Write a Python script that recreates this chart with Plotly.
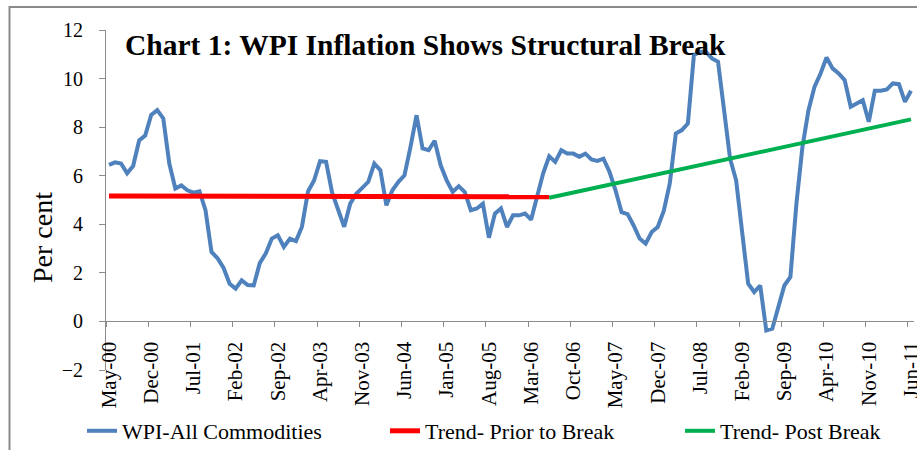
import pandas as pd
import plotly.graph_objects as go

# Monthly categories May-00 .. Jun-11
months = list(pd.date_range("2000-05-01", periods=134, freq="MS").strftime("%b-%y"))

wpi = [6.45, 6.55, 6.5, 6.1, 6.4, 7.45, 7.65, 8.5, 8.7, 8.36,
       6.5, 5.47, 5.6, 5.4, 5.3, 5.36, 4.58, 2.86, 2.6, 2.2,
       1.55, 1.35, 1.69, 1.5, 1.48, 2.4, 2.8, 3.41, 3.55, 3.07,
       3.41, 3.31, 3.9, 5.35, 5.8, 6.6, 6.57, 5.3, 4.6, 3.9,
       4.85, 5.26, 5.5, 5.75, 6.5, 6.23, 4.78, 5.4, 5.75, 6.02,
       7.19, 8.49, 7.12, 7.05, 7.44, 6.43, 5.81, 5.33, 5.57, 5.33,
       4.58, 4.65, 4.85, 3.45, 4.44, 4.65, 3.89, 4.37, 4.37, 4.44,
       4.19, 5.1, 6.1, 6.8, 6.57, 7.05, 6.91, 6.91, 6.78, 6.91,
       6.67, 6.61, 6.7, 6.16, 5.4, 4.5, 4.42, 3.95, 3.41, 3.2,
       3.68, 3.89, 4.55, 5.68, 7.74, 7.88, 8.15, 10.97, 11.1, 11.1,
       10.83, 10.69, 8.7, 6.7, 5.81, 3.75, 1.55, 1.21, 1.48, -0.37,
       -0.3, 0.59, 1.48, 1.83, 4.85, 7.19, 8.7, 9.66, 10.21, 10.87,
       10.42, 10.21, 9.94, 8.84, 8.98, 9.11, 8.22, 9.5, 9.5, 9.55,
       9.8, 9.77, 9.04, 9.5]

# Trend lines (end points)
trend_prior_x = [0, 73]
trend_prior_y = [5.16, 5.13]
trend_post_x = [73, 133]
trend_post_y = [5.09, 8.32]

tick_idx = list(range(0, 134, 7))
tick_labels = [months[i] for i in tick_idx]

FONT = "Liberation Serif, Times New Roman, serif"
AXIS_GRAY = "#8c8c8c"

x_idx = list(range(len(months)))

fig = go.Figure()
fig.add_trace(go.Scatter(x=x_idx, y=wpi, mode="lines", name="WPI-All Commodities",
                         line=dict(color="#4F81BD", width=4), legend="legend",
                         showlegend=True))
fig.add_trace(go.Scatter(x=trend_prior_x, y=trend_prior_y, mode="lines",
                         name="Trend- Prior to Break",
                         line=dict(color="#FF0000", width=5), legend="legend2",
                         showlegend=True))
fig.add_trace(go.Scatter(x=trend_post_x, y=trend_post_y, mode="lines",
                         name="Trend- Post Break",
                         line=dict(color="#00B050", width=4), legend="legend3",
                         showlegend=True))

legend_common = dict(xref="container", yref="container", xanchor="left", yanchor="middle",
                     font=dict(family=FONT, size=22, color="black"),
                     bgcolor="rgba(0,0,0,0)", orientation="h")

fig.update_layout(
    width=917, height=450,
    showlegend=True,
    margin=dict(l=106, r=3, t=30, b=80, autoexpand=False),
    paper_bgcolor="white", plot_bgcolor="white",
    font=dict(family=FONT, color="black"),
    title=dict(text="<b>Chart 1: WPI Inflation Shows Structural Break</b>",
               xref="container", yref="container", x=125 / 917, y=1 - 45 / 450,
               xanchor="left", yanchor="middle",
               font=dict(family=FONT, size=29.5, color="black")),
    xaxis=dict(range=[-0.5, 133.5], tickmode="array",
               tickvals=[i - 0.5 for i in tick_idx], ticktext=tick_labels,
               tickangle=-90, ticks="outside", ticklen=5, tickcolor=AXIS_GRAY,
               showline=True, linecolor=AXIS_GRAY, linewidth=1,
               anchor="free", position=2 / 14, showgrid=False, zeroline=False,
               ticklabelshift=3, ticklabelstandoff=6, automargin=False,
               ticklabeloverflow="allow",
               tickfont=dict(family=FONT, size=21, color="black")),
    yaxis=dict(range=[-2, 12], tickmode="linear", tick0=0, dtick=2,
               ticks="outside", ticklen=6, tickcolor=AXIS_GRAY,
               showline=True, linecolor=AXIS_GRAY, linewidth=1,
               showgrid=False, zeroline=False, ticklabelstandoff=12, automargin=False,
               tickfont=dict(family=FONT, size=20, color="black")),
    legend=dict(x=82 / 917, y=1 - 431 / 450, **legend_common),
    legend2=dict(x=385 / 917, y=1 - 431 / 450, **legend_common),
    legend3=dict(x=680 / 917, y=1 - 431 / 450, **legend_common),
    annotations=[dict(text="Per cent", textangle=-90, xref="paper", yref="paper",
                      x=(42 - 106) / 808, y=(370 - 238) / 340,
                      xanchor="center", yanchor="middle", showarrow=False,
                      font=dict(family=FONT, size=28, color="black"))],
    shapes=[dict(type="rect", xref="paper", yref="paper",
                 x0=(9.5 - 106) / 808, x1=1.1, y0=-0.3, y1=(370 - 7) / 340,
                 line=dict(color="#8a8a8a", width=2), fillcolor="rgba(0,0,0,0)",
                 layer="below")],
)

fig.write_html("out.html", config={"displayModeBar": False},
               post_script="document.body.style.margin='0';document.body.style.overflow='hidden';")
